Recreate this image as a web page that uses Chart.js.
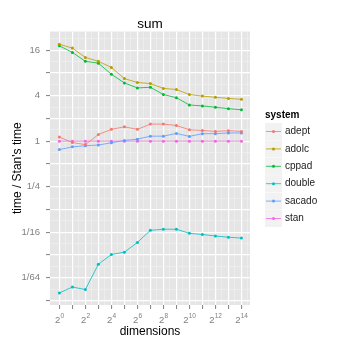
<!DOCTYPE html>
<html>
<head>
<meta charset="utf-8">
<script src="https://cdn.jsdelivr.net/npm/chart.js@4.4.1/dist/chart.umd.min.js"></script>
<style>
body { margin: 0; background: #fff; }
</style>
</head>
<body>
<canvas id="grafico" width="346" height="346"></canvas>
<script>
// x = log2(dimensions), y = log2(time / Stan's time)
var dims = [0, 1, 2, 3, 4, 5, 6, 7, 8, 9, 10, 11, 12, 13, 14];
var systems = ['adept', 'adolc', 'cppad', 'double', 'sacado', 'stan'];
var colores = ['#F8766D', '#B79F00', '#00BA38', '#00BFC4', '#619CFF', '#F564E3'];

var adept  = [0.18, -0.06, -0.15, 0.29, 0.52, 0.63, 0.52, 0.75, 0.75, 0.69, 0.50, 0.47, 0.43, 0.46, 0.43];
var adolc  = [4.26, 4.09, 3.68, 3.51, 3.24, 2.75, 2.58, 2.53, 2.32, 2.27, 2.05, 1.98, 1.93, 1.88, 1.84];
var cppad  = [4.19, 3.90, 3.51, 3.43, 2.94, 2.56, 2.34, 2.37, 2.05, 1.91, 1.59, 1.55, 1.49, 1.43, 1.38];
var double = [-6.67, -6.41, -6.52, -5.41, -4.98, -4.88, -4.45, -3.92, -3.87, -3.87, -4.05, -4.10, -4.17, -4.22, -4.26];
var sacado = [-0.37, -0.25, -0.20, -0.17, -0.07, 0.03, 0.09, 0.22, 0.22, 0.34, 0.21, 0.33, 0.33, 0.36, 0.36];
var stan   = [0, 0, 0, 0, 0, 0, 0, 0, 0, 0, 0, 0, 0, 0, 0];
var valores = [adept, adolc, cppad, double, sacado, stan];

// axis breaks (log2 units) and their labels
var xBreaks = [0, 2, 4, 6, 8, 10, 12, 14];
var xExponentes = ['0', '2', '4', '6', '8', '10', '12', '14'];
var yBreaks = [-6, -4, -2, 0, 2, 4];
var yLabels = ['1/64', '1/16', '1/4', '1', '4', '16'];

function mallaTicks(desde, hasta) {
    var t = [];
    for (var v = desde; v <= hasta; v += 0.5) t.push({ value: v });
    return t;
}
function esMayor(ctx) { return Number.isInteger(ctx.tick.value); }

var fondo = {
    id: 'fondo',
    beforeDraw: function (chart) {
        var a = chart.chartArea, c = chart.ctx;
        c.save();
        c.fillStyle = '#E5E5E5';
        c.fillRect(a.left, a.top, a.right - a.left, a.bottom - a.top);
        c.restore();
    }
};

// 2^n labels under the x axis, placed with the x scale
var potencias = {
    id: 'potencias',
    afterDraw: function (chart) {
        var c = chart.ctx, sx = chart.scales.x;
        var base = sx.top + 17.5;
        c.save();
        c.fillStyle = '#7F7F7F';
        c.textBaseline = 'alphabetic';
        c.textAlign = 'left';
        xBreaks.forEach(function (v, k) {
            var px = sx.getPixelForValue(v);
            c.font = '9.5px "Liberation Sans"';
            var w1 = c.measureText('2').width;
            c.font = '6.5px "Liberation Sans"';
            var w2 = c.measureText(xExponentes[k]).width;
            var x0 = px - (w1 + w2) / 2;
            c.font = '9.5px "Liberation Sans"';
            c.fillText('2', x0, base);
            c.font = '6.5px "Liberation Sans"';
            c.fillText(xExponentes[k], x0 + w1 + 0.3, base - 5);
        });
        c.restore();
    }
};

// ggplot-like legend on the right
var leyenda = {
    id: 'leyenda',
    afterDraw: function (chart) {
        var c = chart.ctx;
        var x = 265, y0 = 115, paso = 17.4;
        c.save();
        c.textBaseline = 'middle';
        c.textAlign = 'left';
        c.fillStyle = '#000';
        c.font = 'bold 10px "Liberation Sans"';
        c.fillText('system', x, y0);
        c.font = '10px "Liberation Sans"';
        chart.data.datasets.forEach(function (ds, i) {
            var cy = y0 + 16.5 + i * paso;
            c.fillStyle = '#F2F2F2';
            c.fillRect(x, cy - 8.5, 17, 17);
            c.strokeStyle = ds.borderColor;
            c.lineWidth = 0.8;
            c.beginPath();
            c.moveTo(x + 1, cy);
            c.lineTo(x + 16, cy);
            c.stroke();
            c.fillStyle = ds.borderColor;
            c.beginPath();
            c.arc(x + 8.5, cy, 1.5, 0, Math.PI * 2);
            c.fill();
            c.fillStyle = '#1a1a1a';
            c.fillText(ds.label, x + 20, cy);
        });
        c.restore();
    }
};

var datasets = systems.map(function (s, i) {
    return {
        label: s,
        data: dims.map(function (d, j) { return { x: d, y: valores[i][j] }; }),
        borderColor: colores[i],
        backgroundColor: colores[i],
        borderWidth: 0.8,
        pointRadius: 1.5,
        pointBorderWidth: 0,
        pointHoverRadius: 1.5,
        tension: 0
    };
});

var grid = {
    color: function (ctx) { return esMayor(ctx) ? '#FFFFFF' : '#F2F2F2'; },
    lineWidth: function (ctx) { return esMayor(ctx) ? 1.2 : 0.6; },
    tickColor: function (ctx) { return esMayor(ctx) ? '#7F7F7F' : 'rgba(0,0,0,0)'; },
    tickWidth: 1,
    tickLength: 4
};

var ctx = document.getElementById('grafico');
var mychart = new Chart(ctx, {
    type: 'line',
    data: { datasets: datasets },
    options: {
        responsive: false,
        animation: false,
        layout: { padding: { left: 0, right: 96, top: 0, bottom: 0 } },
        plugins: {
            legend: { display: false },
            tooltip: { enabled: false },
            title: {
                display: true,
                text: 'sum',
                fullSize: false,
                color: '#000',
                font: { family: 'Liberation Sans', size: 13.5, weight: 'normal', lineHeight: 1 },
                padding: { top: 17.5, bottom: 0.5 }
            }
        },
        scales: {
            x: {
                type: 'linear',
                min: -0.72,
                max: 14.66,
                afterBuildTicks: function (s) { s.ticks = mallaTicks(0, 14.5); },
                afterFit: function (s) { s.height = 41; },
                border: { display: false },
                grid: grid,
                ticks: {
                    autoSkip: false,
                    maxRotation: 0,
                    padding: 1,
                    callback: function () { return ''; }
                },
                title: {
                    display: true,
                    text: 'dimensions',
                    color: '#000',
                    font: { family: 'Liberation Sans', size: 12 },
                    padding: { top: 0, bottom: 7 }
                }
            },
            y: {
                type: 'linear',
                min: -7.2,
                max: 4.82,
                afterBuildTicks: function (s) { s.ticks = mallaTicks(-7, 4.5); },
                afterFit: function (s) { s.width = 50; },
                border: { display: false },
                grid: grid,
                ticks: {
                    autoSkip: false,
                    padding: 6,
                    color: '#7F7F7F',
                    font: { family: 'Liberation Sans', size: 9.5 },
                    callback: function (v) {
                        var k = yBreaks.indexOf(v);
                        return k >= 0 ? yLabels[k] : '';
                    }
                },
                title: {
                    display: true,
                    text: "time / Stan's time",
                    color: '#000',
                    font: { family: 'Liberation Sans', size: 12 },
                    padding: { top: 10, bottom: 0 }
                }
            }
        }
    },
    plugins: [fondo, potencias, leyenda]
});
</script>
</body>
</html>
